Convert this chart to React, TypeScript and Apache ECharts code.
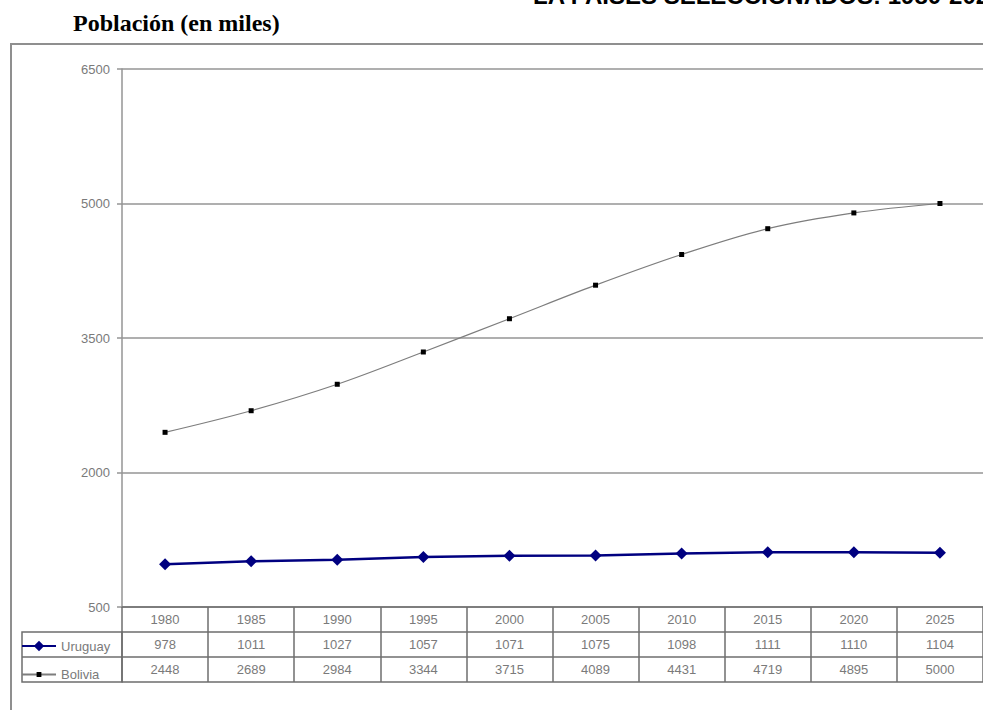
import React, { useEffect, useRef } from "react";
import * as echarts from "echarts";

// Población (en miles), 1980–2025
const years = ["1980", "1985", "1990", "1995", "2000", "2005", "2010", "2015", "2020", "2025"];
const uruguay = [978, 1011, 1027, 1057, 1071, 1075, 1098, 1111, 1110, 1104];
const bolivia = [2448, 2689, 2984, 3344, 3715, 4089, 4431, 4719, 4895, 5000];
const yTicks = { min: 500, max: 6500, step: 1500 };

const titleText = "LA PAISES SELECCIONADOS: 1980-2025";
const unitText = "Población (en miles)";

const SANS = "'Liberation Sans', Arial, sans-serif";
const SERIF = "'Liberation Serif', 'Times New Roman', serif";
const GRID_COLOR = "#959595";
const TABLE_COLOR = "#6e6e6e";
const TEXT_COLOR = "#7a7a7a";

export default function App() {
  const ref = useRef<HTMLDivElement>(null);

  useEffect(() => {
    if (!ref.current) return;
    const chart = echarts.init(ref.current, null, { renderer: "svg" });

    // one extra bottom axis per data-table row, each stacked 25px lower
    const rowAxis = (offset: number, values: number[] | null) => ({
      type: "category",
      data: years,
      gridIndex: 0,
      position: "bottom",
      offset,
      axisLine: { show: true, lineStyle: { color: TABLE_COLOR, width: 1.5 } },
      axisTick: { show: false },
      axisLabel: values
        ? {
            show: true,
            interval: 0,
            margin: 6,
            color: TEXT_COLOR,
            fontSize: 13,
            fontFamily: SANS,
            formatter: (_v: string, i: number) => String(values[i]),
          }
        : { show: false },
      splitLine: { show: false },
    });

    // legend key inside a table row; the marker is 80% of itemHeight
    const rowLegend = (name: string, centerY: number, itemHeight: number) => ({
      orient: "vertical",
      left: 21,
      top: centerY - itemHeight / 2,
      padding: 0,
      itemWidth: 34,
      itemHeight,
      textStyle: { color: TEXT_COLOR, fontSize: 13, fontFamily: SANS },
      data: [name],
    });

    chart.setOption({
      animation: false,
      backgroundColor: "#ffffff",
      grid: { left: 122, top: 69, width: 869, height: 538, containLabel: false },
      legend: [rowLegend("Uruguay", 646, 13), rowLegend("Bolivia", 671, 6)],
      xAxis: [
        {
          type: "category",
          data: years,
          boundaryGap: true,
          position: "bottom",
          axisLine: { show: true, lineStyle: { color: TABLE_COLOR, width: 1.5 } },
          axisTick: {
            show: true,
            interval: 0,
            inside: false,
            length: 75,
            lineStyle: { color: TABLE_COLOR, width: 1.5 },
          },
          axisLabel: {
            show: true,
            interval: 0,
            margin: 6,
            color: TEXT_COLOR,
            fontSize: 13,
            fontFamily: SANS,
          },
          splitLine: { show: false },
        },
        rowAxis(25, uruguay),
        rowAxis(50, bolivia),
        rowAxis(75, null),
      ],
      yAxis: {
        type: "value",
        min: yTicks.min,
        max: yTicks.max,
        interval: yTicks.step,
        axisLine: { show: true, lineStyle: { color: GRID_COLOR, width: 1.5 } },
        axisTick: { show: true, length: 5, lineStyle: { color: GRID_COLOR, width: 1.5 } },
        axisLabel: {
          margin: 12,
          color: TEXT_COLOR,
          fontSize: 13,
          fontFamily: SANS,
          formatter: (v: number) => String(v),
        },
        splitLine: { show: true, lineStyle: { color: GRID_COLOR, width: 1.5 } },
      },
      series: [
        {
          name: "Uruguay",
          type: "line",
          data: uruguay,
          symbol: "diamond",
          symbolSize: 12,
          itemStyle: { color: "#000080" },
          lineStyle: { color: "#000080", width: 2.5 },
          z: 3,
        },
        {
          name: "Bolivia",
          type: "line",
          data: bolivia,
          smooth: 0.35,
          symbol: "rect",
          symbolSize: 5,
          itemStyle: { color: "#000000" },
          lineStyle: { color: "#7d7d7d", width: 1.2 },
          z: 2,
        },
      ],
      graphic: [
        {
          type: "rect",
          silent: true,
          shape: { x: 11, y: 44, width: 1200, height: 900 },
          style: { fill: "none", stroke: "#8f8f8f", lineWidth: 2 },
          z: -1,
        },
        // legend cells on the left of the data table
        {
          type: "rect",
          silent: true,
          shape: { x: 22, y: 632, width: 100, height: 50 },
          style: { fill: "none", stroke: TABLE_COLOR, lineWidth: 1.5 },
        },
        {
          type: "line",
          silent: true,
          shape: { x1: 22, y1: 657, x2: 122, y2: 657 },
          style: { stroke: TABLE_COLOR, lineWidth: 1.5 },
        },
        {
          type: "text",
          silent: true,
          x: 73,
          y: 23,
          style: {
            text: unitText,
            font: `bold 24px ${SERIF}`,
            fill: "#000000",
            verticalAlign: "middle",
            align: "left",
          },
        },
        {
          type: "text",
          silent: true,
          x: 533,
          y: -5,
          style: {
            text: titleText,
            font: `bold 24px ${SANS}`,
            fill: "#000000",
            verticalAlign: "middle",
            align: "left",
          },
        },
      ],
    });

    return () => chart.dispose();
  }, []);

  return (
    <div
      ref={ref}
      style={{ position: "fixed", left: 0, top: 0, width: 983, height: 710, background: "#ffffff" }}
    />
  );
}
